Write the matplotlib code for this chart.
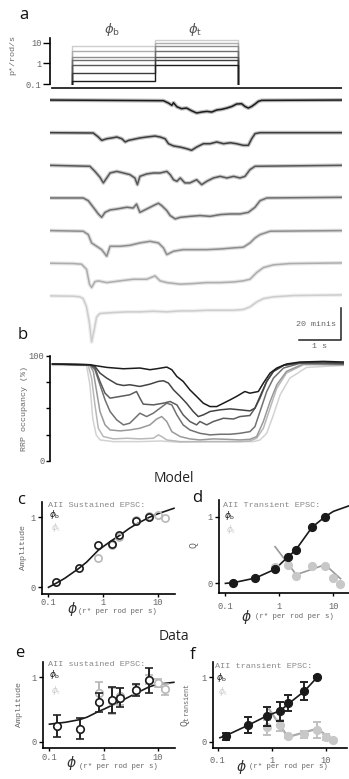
import numpy as np
import matplotlib.pyplot as plt
from matplotlib.ticker import NullLocator

W, H = 349, 779
MONO = ['Liberation Mono', 'DejaVu Sans Mono']
SANS = ['Open Sans', 'DejaVu Sans']
plt.rcParams['font.family'] = MONO
plt.rcParams['mathtext.fontset'] = 'dejavusans'

# ---------------- data ----------------
grays = ['#1c1c1c', '#3d3d3d', '#575757', '#6e6e6e', '#8e8e8e', '#adadad', '#cdcdcd']

# stimulus (panel a, top): step times (s) and intensities (R*/rod/s)
stim_t = [0.52, 2.5, 4.48]
phi_b = [0.14, 0.36, 0.82, 1.45, 2.0, 4.0, 7.0]
phi_t = [0.82, 1.45, 2.0, 4.0, 7.0, 10.0, 13.5]
monitor_t = [0.04, 6.95]

# AII EPSC traces, smoothed (time s, amplitude in minis)
trace_t = [
    [0, 2.70, 2.82, 2.90, 2.94, 3.02, 3.13, 3.25, 3.37, 3.49, 3.61, 3.73, 3.85, 3.97, 4.09, 4.21,
     4.33, 4.44, 4.56, 4.64, 4.72, 4.80, 4.88, 4.96, 5.04, 6.94],
    [0, 1.03, 1.15, 1.23, 1.35, 1.47, 1.59, 1.71, 1.79, 1.87, 1.98, 2.14, 2.30, 2.50, 2.62, 2.74,
     2.82, 2.94, 3.10, 3.25, 3.37, 3.49, 3.65, 3.81, 3.97, 4.13, 4.29, 4.44, 4.60, 4.72, 4.80,
     4.88, 5.00, 6.94],
    [0, 0.95, 1.07, 1.19, 1.27, 1.35, 1.43, 1.59, 1.75, 1.90, 2.02, 2.08, 2.14, 2.30, 2.46, 2.62,
     2.78, 2.86, 2.94, 3.02, 3.10, 3.21, 3.33, 3.49, 3.61, 3.73, 3.89, 4.05, 4.21, 4.37, 4.52,
     4.64, 4.76, 4.88, 6.94],
    [0, 0.79, 0.91, 1.03, 1.15, 1.23, 1.31, 1.43, 1.59, 1.83, 1.98, 2.06, 2.14, 2.30, 2.46, 2.58,
     2.66, 2.78, 2.86, 2.98, 3.10, 3.33, 3.57, 3.81, 4.05, 4.29, 4.52, 4.72, 4.88, 5.00, 5.16, 6.94],
    [0, 0.79, 0.91, 0.99, 1.11, 1.23, 1.35, 1.43, 1.67, 1.90, 2.14, 2.38, 2.58, 2.70, 2.78, 2.94,
     3.17, 3.41, 3.73, 4.05, 4.37, 4.60, 4.76, 4.88, 5.00, 5.24, 6.94],
    [0, 0.56, 0.75, 0.87, 0.94, 0.99, 1.07, 1.15, 1.35, 1.67, 1.98, 2.30, 2.50, 2.62, 2.78, 3.10,
     3.41, 3.73, 4.05, 4.37, 4.60, 4.76, 4.92, 5.08, 5.32, 5.71, 6.94],
    [0, 0.56, 0.71, 0.79, 0.87, 0.94, 0.99, 1.05, 1.11, 1.19, 1.51, 1.83, 2.14, 2.46, 2.78, 3.10,
     3.41, 3.73, 4.05, 4.37, 4.60, 4.76, 4.92, 5.08, 5.32, 5.79, 6.94],
]
trace_v = [
    [0, -0.4, -1.9, -3.3, -1.7, -4.2, -5.4, -5.0, -6.7, -8.1, -7.5, -7.1, -7.5, -6.2, -5.8, -5.0,
     -4.0, -2.5, -2.3, -4.0, -5.0, -4.0, -2.5, -0.8, -0.2, 0],
    [0, -0.2, -2.7, -4.8, -3.8, -3.3, -2.7, -3.8, -5.8, -4.8, -4.2, -3.3, -2.7, -2.1, -2.7, -3.8,
     -6.9, -8.3, -9.0, -10.0, -11.0, -9.0, -6.9, -6.9, -5.8, -6.9, -6.3, -6.9, -7.9, -7.9, -3.8,
     -0.6, 0, 0],
    [0, -0.6, -3.8, -7.5, -11.0, -7.9, -4.8, -3.8, -4.8, -5.8, -7.9, -12.1, -6.9, -5.4, -4.8, -4.8,
     -3.8, -5.8, -9.0, -10.0, -7.9, -11.0, -11.0, -9.0, -12.1, -10.0, -7.9, -6.9, -7.9, -6.9, -7.9,
     -6.9, -2.7, -0.6, 0],
    [0, 0, -1.7, -5.8, -10.0, -12.1, -9.0, -7.5, -6.9, -5.8, -6.3, -3.8, -9.0, -6.9, -4.8, -3.3,
     -4.8, -7.9, -11.0, -13.1, -12.1, -11.5, -11.0, -11.5, -10.4, -10.0, -10.0, -9.0, -5.8, -1.7,
     0, 0.4],
    [0, -0.4, -2.5, -7.7, -9.8, -11.9, -16.0, -9.8, -9.8, -9.2, -7.7, -6.7, -7.7, -10.8, -15.0,
     -12.9, -11.9, -11.9, -11.9, -11.5, -10.8, -10.4, -7.7, -4.6, -2.5, -0.4, 0],
    [0, -0.2, -0.6, -3.8, -13.1, -15.2, -11.5, -11.0, -12.1, -11.0, -10.0, -10.0, -7.9, -11.0,
     -12.1, -13.1, -12.7, -12.1, -12.1, -11.7, -11.0, -10.0, -5.8, -2.7, -1.0, -0.2, 0.2],
    [0, -0.2, -0.6, -1.7, -6.9, -17.3, -28.8, -21.5, -13.1, -11.0, -10.4, -10.0, -10.0, -9.6,
     -10.0, -9.4, -9.4, -9.0, -9.0, -9.0, -8.5, -6.9, -3.8, -1.7, -0.6, 0.2, 0.6],
]
trace_gap = 20.4          # minis between stacked traces
bar_s, bar_minis = 1.0, 20

# panel b: RRP occupancy (%)
occ_t = [
    [0.06, 0.95, 1.35, 1.75, 2.14, 2.38, 2.54, 2.78, 2.90, 3.02, 3.17, 3.33, 3.49, 3.65, 3.81, 3.97,
     4.13, 4.29, 4.44, 4.64, 4.76, 4.96, 5.08, 5.24, 5.40, 5.63, 5.95, 6.51, 7.0],
    [0.06, 0.95, 1.07, 1.19, 1.35, 1.59, 1.75, 1.90, 2.14, 2.38, 2.58, 2.70, 2.82, 2.94, 3.10, 3.25,
     3.41, 3.53, 3.65, 3.81, 4.05, 4.29, 4.52, 4.76, 4.88, 5.00, 5.16, 5.32, 5.56, 5.95, 6.51, 7.0],
    [0.06, 0.95, 1.07, 1.19, 1.31, 1.43, 1.67, 1.90, 2.06, 2.14, 2.22, 2.46, 2.70, 2.86, 3.02, 3.17,
     3.33, 3.49, 3.57, 3.73, 3.89, 4.13, 4.37, 4.52, 4.76, 4.88, 5.00, 5.16, 5.32, 5.56, 5.95, 7.0],
    [0.06, 0.95, 1.07, 1.19, 1.31, 1.43, 1.59, 1.75, 1.90, 2.06, 2.14, 2.30, 2.46, 2.62, 2.78, 2.90,
     3.02, 3.17, 3.33, 3.57, 3.81, 4.05, 4.29, 4.52, 4.76, 4.88, 5.00, 5.16, 5.32, 5.56, 5.95, 7.0],
    [0.06, 0.95, 1.03, 1.11, 1.19, 1.31, 1.43, 1.67, 1.90, 2.14, 2.38, 2.54, 2.66, 2.78, 2.90, 3.10,
     3.33, 3.57, 3.89, 4.21, 4.52, 4.76, 4.92, 5.08, 5.24, 5.40, 5.63, 6.03, 7.0],
    [0.06, 0.91, 0.99, 1.07, 1.15, 1.27, 1.51, 1.83, 2.14, 2.46, 2.58, 2.66, 2.78, 3.10, 3.57, 4.05,
     4.52, 4.76, 4.92, 5.08, 5.24, 5.40, 5.63, 6.03, 7.0],
    [0.06, 0.87, 0.95, 1.02, 1.10, 1.19, 1.51, 2.14, 2.62, 3.10, 3.73, 4.52, 4.84, 5.00, 5.16, 5.32,
     5.48, 5.71, 6.11, 7.0],
]
occ_v = [
    [92.1, 91.4, 88.9, 87.6, 88.3, 86.7, 87.6, 89.2, 86.7, 80.3, 75.6, 67.6, 61.3, 54.9, 51.7, 51.7,
     54.9, 58.1, 61.3, 66.0, 64.4, 66.0, 74.0, 83.5, 88.3, 92.1, 94.0, 94.6, 94.0],
    [92.1, 91.4, 89.8, 83.5, 78.7, 73.0, 71.7, 72.4, 70.8, 73.0, 75.6, 76.2, 74.0, 67.6, 61.3, 54.9,
     47.0, 42.2, 43.8, 47.0, 48.6, 49.5, 48.6, 47.6, 50.2, 61.3, 75.6, 85.1, 90.8, 93.3, 94.0, 93.0],
    [92.1, 91.4, 88.3, 75.6, 64.4, 59.7, 61.3, 62.9, 66.0, 59.7, 54.0, 53.3, 54.9, 56.5, 53.3, 43.8,
     37.5, 34.3, 37.5, 34.3, 37.5, 40.6, 39.9, 42.2, 43.2, 50.2, 59.7, 75.6, 85.1, 90.8, 93.3, 92.4],
    [92.1, 91.4, 86.7, 72.4, 58.1, 47.0, 39.0, 34.3, 35.9, 42.2, 45.4, 42.2, 45.4, 50.2, 54.9, 53.3,
     43.8, 34.3, 29.5, 26.3, 24.8, 25.4, 25.4, 26.3, 27.9, 32.7, 47.0, 66.0, 78.7, 88.3, 92.7, 92.1],
    [92.1, 90.8, 85.1, 66.0, 47.0, 34.3, 29.5, 28.6, 29.5, 31.1, 34.3, 39.9, 42.2, 37.5, 27.9, 23.2,
     21.0, 20.0, 21.0, 20.6, 20.0, 20.6, 23.2, 37.5, 56.5, 72.4, 85.1, 92.1, 91.4],
    [91.4, 90.8, 78.7, 53.3, 31.1, 23.2, 21.0, 21.6, 21.0, 21.6, 24.8, 23.2, 20.0, 18.4, 18.4, 18.4,
     18.4, 19.0, 21.6, 31.1, 50.2, 69.2, 83.5, 91.4, 91.4],
    [90.8, 90.8, 72.4, 39.9, 24.8, 20.0, 18.4, 18.4, 19.0, 17.8, 18.4, 18.4, 18.4, 20.0, 26.3, 43.8,
     62.9, 78.7, 88.9, 90.8],
]

# panel c: model sustained amplitude
c_b_y = [0.07, 0.27, 0.61, 0.62, 0.75, 0.95, 1.0]
c_t_y = [0.42, 0.60, 0.72, 0.96, 1.02, 1.03, 0.99]
c_fit_x = [0.1, 0.14, 0.2, 0.36, 0.5, 0.82, 1.0, 1.45, 2.0, 3.0, 4.0, 7.0, 10, 20]
c_fit_y = [0.0, 0.06, 0.13, 0.27, 0.36, 0.53, 0.58, 0.67, 0.74, 0.84, 0.90, 1.0, 1.05, 1.13]

# panel d: model transient Q
d_b_y = [0.01, 0.085, 0.21, 0.40, 0.50, 0.84, 1.0]
d_t_y = [0.25, 0.27, 0.11, 0.26, 0.26, 0.085, -0.015]
d_fit_x = [0.1, 0.14, 0.36, 0.82, 1.45, 2.0, 4.0, 7.0, 10, 19]
d_fit_y = [0.0, 0.01, 0.08, 0.21, 0.40, 0.50, 0.84, 1.0, 1.08, 1.16]
d_line_x = [0.83, 2.05, 7.0, 13.5]
d_line_y = [0.55, 0.13, 0.28, 0.07]

# panel e: data sustained amplitude
e_b_y = [0.24, 0.20, 0.61, 0.65, 0.68, 0.80, 0.95]
e_b_err = [0.17, 0.16, 0.15, 0.20, 0.15, 0.09, 0.19]
e_t_y = [0.75, 0.63, 0.70, 0.80, 0.96, 0.91, 0.81]
e_t_err = [0.17, 0.20, 0.13, 0.08, 0.07, 0.06, 0.09]
e_fit_x = [0.1, 0.2, 0.36, 0.5, 0.82, 1.0, 2.0, 4.0, 7.0, 10, 20]
e_fit_y = [0.27, 0.30, 0.34, 0.38, 0.47, 0.50, 0.62, 0.75, 0.85, 0.89, 0.92]

# panel f: data transient Q
f_b_y = [0.08, 0.26, 0.39, 0.47, 0.60, 0.78, 1.0]
f_b_err = [0.05, 0.12, 0.15, 0.15, 0.13, 0.14, 0.02]
f_t_y = [0.22, 0.25, 0.08, 0.11, 0.18, 0.07, 0.02]
f_t_err = [0.12, 0.09, 0.03, 0.05, 0.12, 0.05, 0.02]
f_fit_x = [0.11, 0.14, 0.36, 0.82, 1.45, 2.0, 4.0, 7.0]
f_fit_y = [0.06, 0.09, 0.25, 0.40, 0.48, 0.58, 0.78, 1.0]
f_line_x = [0.9, 2.0, 7.0, 13.5]
f_line_y = [0.5, 0.07, 0.2, 0.02]

BLACK = '#1a1a1a'
LGREY = '#b8b8b8'
TXT = '#666666'


def box(left, top, right, bottom):
    return [left / W, 1 - bottom / H, (right - left) / W, (bottom - top) / H]


fig = plt.figure(figsize=(W / 100, H / 100), dpi=100)

# ---------------- panel a: stimulus ----------------
ax_s = fig.add_axes(box(50, 38, 342, 84.5))
ax_s.set_yscale('log')
ax_s.set_xlim(0, 6.95)
ax_s.set_ylim(0.095, 16.7)
for i in reversed(range(7)):
    xs = [stim_t[0], stim_t[0], stim_t[1], stim_t[1], stim_t[2], stim_t[2]]
    ys = [0.1, phi_b[i], phi_b[i], phi_t[i], phi_t[i], 0.1]
    ax_s.plot(xs, ys, color=grays[i], lw=1.0)
for s in ['top', 'right', 'bottom']:
    ax_s.spines[s].set_visible(False)
ax_s.spines['left'].set_linewidth(1.2)
ax_s.set_xticks([])
ax_s.set_yticks([0.1, 1, 10])
ax_s.set_yticklabels(['0.1', '1', '10'])
ax_s.yaxis.set_minor_locator(NullLocator())
ax_s.tick_params(axis='y', labelsize=6.3, labelcolor=TXT, length=5, width=1, pad=1)
ax_s.set_ylabel('p*/rod/s', fontsize=6, color=TXT)
ax_s.yaxis.set_label_coords(-0.116, 0.63)
fig.text(112 / W, 1 - 30 / H, r'$\phi_\mathrm{b}$', fontsize=9.5, color='#555', ha='center', va='center')
fig.text(195 / W, 1 - 30 / H, r'$\phi_\mathrm{t}$', fontsize=9.5, color='#555', ha='center', va='center')

# ---------------- panel a: traces ----------------
ax_t = fig.add_axes(box(50, 85, 342, 345))
ax_t.set_xlim(0, 6.95)
ax_t.set_ylim(-153.1, 9.4)
ax_t.axis('off')
ax_t.plot(monitor_t, [7.5, 7.5], color='#222', lw=1.3)
for i in range(7):
    v = np.array(trace_v[i]) - trace_gap * i
    ax_t.plot(trace_t[i], v, color=grays[i], lw=2.8, alpha=0.3, solid_joinstyle='round')
    ax_t.plot(trace_t[i], v, color=grays[i], lw=1.1)
bx, by = 6.92, -150
ax_t.plot([bx - bar_s, bx, bx], [by, by, by + bar_minis], color='#222', lw=1.1, clip_on=False)
ax_t.text(bx - 0.12, by + bar_minis / 2, f'{bar_minis} minis', fontsize=6, color=TXT,
          ha='right', va='center')
ax_t.text(bx - bar_s / 2, by - 2, '1 s', fontsize=6, color=TXT, ha='center', va='top',
          clip_on=False)

# ---------------- panel b ----------------
ax_b = fig.add_axes(box(50, 355.7, 344, 461))
ax_b.set_xlim(0, 7.0)
ax_b.set_ylim(0, 100)
bgrays = ['#1c1c1c', '#444444', '#5c5c5c', '#717171', '#999999', '#b8b8b8', '#d2d2d2']
for i in reversed(range(7)):
    ax_b.plot(occ_t[i], occ_v[i], color=bgrays[i], lw=1.1)
for s in ['top', 'right', 'bottom']:
    ax_b.spines[s].set_visible(False)
ax_b.spines['left'].set_linewidth(1.2)
ax_b.set_xticks([])
ax_b.set_yticks([0, 25, 50, 75, 100])
ax_b.set_yticklabels(['0', '', '', '', '100'])
ax_b.tick_params(axis='y', labelsize=6.3, labelcolor=TXT, length=3, width=1, pad=1)
ax_b.set_ylabel('RRP occupancy (%)', fontsize=6, color=TXT)
ax_b.yaxis.set_label_coords(-0.075, 0.5)

fig.text(174 / W, 1 - 478 / H, 'Model', family=SANS, fontsize=10, color='#222', ha='center', va='center')
fig.text(174 / W, 1 - 636 / H, 'Data', family=SANS, fontsize=10, color='#222', ha='center', va='center')

for lab, (px, py) in zip('abcdef', [(24, 15), (23, 335), (21, 500), (197, 498), (20, 653), (193, 655)]):
    fig.text(px / W, 1 - py / H, lab, family=SANS, fontsize=12, color='#111', ha='center', va='center')


def style(ax, xlim, ylim, pad):
    ax.set_xscale('log')
    ax.set_xlim(*xlim)
    ax.set_ylim(*ylim)
    for s in ['top', 'right']:
        ax.spines[s].set_visible(False)
    for s in ['left', 'bottom']:
        ax.spines[s].set_linewidth(1.2)
    ax.set_xticks([0.1, 1, 10])
    ax.set_xticklabels(['0.1', '1', '10'])
    ax.xaxis.set_minor_locator(NullLocator())
    ax.set_yticks([0, 1])
    ax.set_yticklabels(['0', '1'])
    ax.tick_params(labelsize=6.3, labelcolor=TXT, length=3, width=1)
    ax.tick_params(axis='x', pad=pad, length=2.5)
    ax.tick_params(axis='y', pad=1.5)


def xlab(ax, phx, phy, tx, ty):
    ax.text(phx, phy, r'$\phi$', transform=ax.transAxes, fontsize=10, color='#333',
            ha='center', va='center')
    ax.text(tx, ty, '(r* per rod per s)', transform=ax.transAxes, fontsize=5.3, color=TXT,
            ha='left', va='center')


def legend(ax, title, x, y0, yb, yt):
    ax.text(x, y0, title, transform=ax.transAxes, fontsize=6.1, color='#888', ha='left', va='center')
    ax.text(x + 0.01, yb, r'$\phi_\mathrm{b}$', transform=ax.transAxes, fontsize=6.3, color='#222',
            ha='left', va='center')
    ax.text(x + 0.02, yt, r'$\phi_\mathrm{t}$', transform=ax.transAxes, fontsize=6.3, color='#cccccc',
            ha='left', va='center')


# ---------------- panel c ----------------
ax_c = fig.add_axes(box(42, 502, 175, 594))
style(ax_c, (0.076, 20.9), (-0.096, 1.22), 0.5)
ax_c.plot(c_fit_x, c_fit_y, color=BLACK, lw=1.2, zorder=2)
ax_c.plot(phi_t, c_t_y, 'o', mfc='none', mec=LGREY, mew=1.2, ms=5.2, zorder=3)
ax_c.plot(phi_b, c_b_y, 'o', mfc='none', mec=BLACK, mew=1.2, ms=5.2, zorder=4)
ax_c.set_ylabel('Amplitude', fontsize=6, color=TXT)
ax_c.yaxis.set_label_coords(-0.113, 0.5)
xlab(ax_c, 0.226, -0.165, 0.271, -0.19)
legend(ax_c, 'AII Sustained EPSC:', 0.045, 0.967, 0.86, 0.72)

# ---------------- panel d ----------------
ax_d = fig.add_axes(box(219, 500, 349, 592.7))
style(ax_d, (0.076, 19.4), (-0.14, 1.25), 4)
ax_d.plot(d_line_x, d_line_y, color='#999999', lw=1.2, zorder=2)
ax_d.plot(d_fit_x, d_fit_y, color=BLACK, lw=1.2, zorder=2)
ax_d.plot(phi_t, d_t_y, 'o', mfc='#c8c8c8', mec='#c8c8c8', ms=5.6, zorder=3)
ax_d.plot(phi_b, d_b_y, 'o', mfc=BLACK, mec=BLACK, ms=5.6, zorder=4)
ax_d.set_ylabel('Q', fontsize=7, color=TXT)
ax_d.yaxis.set_label_coords(-0.16, 0.51)
xlab(ax_d, 0.213, -0.259, 0.277, -0.262)
legend(ax_d, 'AII Transient EPSC:', 0.031, 0.946, 0.83, 0.68)

# ---------------- panel e ----------------
ax_e = fig.add_axes(box(42.7, 661.7, 175, 748))
style(ax_e, (0.075, 21), (-0.1, 1.24), 1.0)
ax_e.plot(e_fit_x, e_fit_y, color=BLACK, lw=1.2, zorder=2)
ax_e.errorbar(phi_t, e_t_y, yerr=e_t_err, fmt='o', mfc='white', mec=LGREY, mew=1.2, ms=5.4,
              ecolor=LGREY, elinewidth=1.4, capsize=3, capthick=1.4, zorder=3)
ax_e.errorbar(phi_b, e_b_y, yerr=e_b_err, fmt='o', mfc='white', mec=BLACK, mew=1.2, ms=5.4,
              ecolor='#222222', elinewidth=1.4, capsize=3, capthick=1.4, zorder=4)
ax_e.set_ylabel('Amplitude', fontsize=6, color=TXT)
ax_e.yaxis.set_label_coords(-0.147, 0.5)
xlab(ax_e, 0.219, -0.175, 0.274, -0.215)
legend(ax_e, 'AII sustained EPSC:', 0.04, 0.962, 0.846, 0.672)

# ---------------- panel f ----------------
ax_f = fig.add_axes(box(212.7, 661.7, 346.7, 748))
style(ax_f, (0.081, 24.5), (-0.1, 1.24), 3)
ax_f.plot(f_line_x, f_line_y, color='#aaaaaa', lw=1.6, zorder=2)
ax_f.plot(f_fit_x, f_fit_y, color=BLACK, lw=1.2, zorder=2)
ax_f.errorbar(phi_t, f_t_y, yerr=f_t_err, fmt='o', mfc='#c8c8c8', mec='#c8c8c8', ms=5.6,
              ecolor='#c0c0c0', elinewidth=1.4, capsize=3, capthick=1.4, zorder=3)
ax_f.errorbar(phi_b, f_b_y, yerr=f_b_err, fmt='o', mfc=BLACK, mec=BLACK, ms=5.6,
              ecolor='#222222', elinewidth=1.4, capsize=3, capthick=1.4, zorder=4)
ax_f.set_ylabel(r'$\mathregular{Q_{transient}}$', fontsize=7, color=TXT)
ax_f.yaxis.set_label_coords(-0.157, 0.5)
xlab(ax_f, 0.216, -0.22, 0.271, -0.22)
legend(ax_f, 'AII transient EPSC:', 0.017, 0.945, 0.815, 0.655)

fig.savefig('out.png', dpi=100)
